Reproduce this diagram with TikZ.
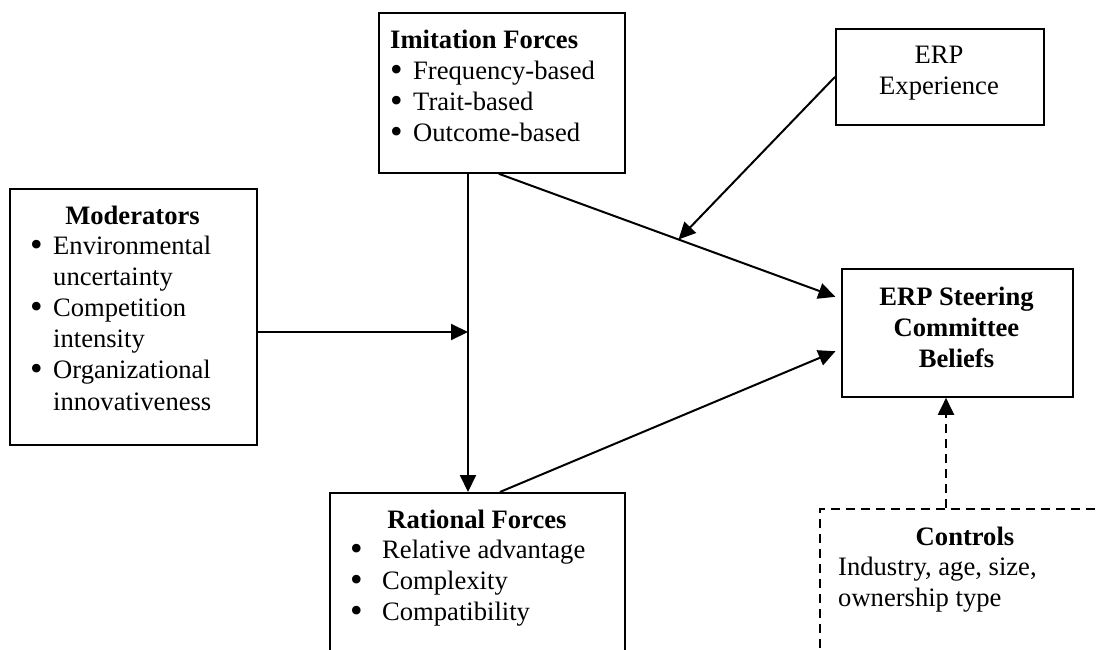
\documentclass[tikz,border=0pt]{standalone}
\usepackage{fontspec}
\setmainfont{Liberation Serif}
\usetikzlibrary{arrows.meta}
\tikzset{
 box/.style={draw,line width=1.8pt,anchor=north west,inner sep=0pt},
 txt/.style={anchor=base west,inner sep=0pt,font=\fontsize{26.6}{31.2}\selectfont},
 ctxt/.style={anchor=base,inner sep=0pt,font=\fontsize{26.6}{31.2}\selectfont},
 arr/.style={line width=2pt,-{Triangle[length=17pt,width=16pt]}}
}
\newcommand{\bul}[1]{\makebox[#1][l]{\smash{\raisebox{-2pt}{\scalebox{1.35}{\textbullet}}}}}
\begin{document}
\begin{tikzpicture}[x=1pt,y=-1pt]
 \useasboundingbox (0,0) rectangle (1098,649);
 \clip (0,0) rectangle (1098,649);
 % boxes
 \node[box,minimum width=246pt,minimum height=160pt] (imit) at (378,12) {};
 \node[box,minimum width=208pt,minimum height=96pt] (exper) at (835,28) {};
 \node[box,minimum width=247pt,minimum height=256pt] (moder) at (9,188) {};
 \node[box,minimum width=231pt,minimum height=128pt] (steer) at (841,268) {};
 \node[box,minimum width=295pt,minimum height=200pt] (ratio) at (329,492) {};
 \node[box,dash pattern=on 9pt off 6pt,minimum width=300pt,minimum height=200pt] (ctrl) at (819,508) {};
 % texts
 \node[txt] (imithead) at (390,48) {\textbf{Imitation Forces}};
 \node[txt] (imitlist) at (390,79) {\begin{tabular}[t]{@{}l@{}}
  \bul{23pt}Frequency-based\\ \bul{23pt}Trait-based\\ \bul{23pt}Outcome-based\end{tabular}};
 \node[ctxt] (expertxt) at (939,63) {\begin{tabular}[t]{@{}c@{}}ERP\\ Experience\end{tabular}};
 \node[ctxt] (moderhead) at (132.5,224) {\textbf{Moderators}};
 \node[txt] (moderlist) at (30,254) {\begin{tabular}[t]{@{}l@{}}
  \bul{23pt}Environmental\\ \hspace{23pt}uncertainty\\ \bul{23pt}Competition\\
  \hspace{23pt}intensity\\ \bul{23pt}Organizational\\ \hspace{23pt}innovativeness\end{tabular}};
 \node[ctxt] (steertxt) at (956.5,305) {\begin{tabular}[t]{@{}c@{}}\textbf{ERP Steering}\\
  \textbf{Committee}\\ \textbf{Beliefs}\end{tabular}};
 \node[ctxt] (ratiohead) at (477,528) {\textbf{Rational Forces}};
 \node[txt] (ratiolist) at (350,558) {\begin{tabular}[t]{@{}l@{}}
  \bul{32pt}Relative advantage\\ \bul{32pt}Complexity\\ \bul{32pt}Compatibility\end{tabular}};
 \node[ctxt] (ctrlhead) at (965,545) {\textbf{Controls}};
 \node[txt] (ctrltxt) at (838,575) {\begin{tabular}[t]{@{}l@{}}Industry, age, size,\\ ownership type\end{tabular}};
 % connectors
 \coordinate (junc) at (468,332);
 \coordinate (dashx) at (946,508);
 \draw[arr] (imit.south -| junc) -- (ratio.north -| junc);
 \draw[arr] (moder.east |- junc) -- (junc);
 \draw[arr,shorten >=6pt] ([xshift=-3pt]imit.south) -- ([yshift=34pt]steer.west) coordinate[pos=0.525] (hit);
 \draw[arr,shorten >=6pt] ([xshift=22.5pt]ratio.north) -- ([yshift=-16pt]steer.west);
 \draw[arr] (exper.west) -- (hit);
 \draw[arr,dash pattern=on 9pt off 6pt] (ctrl.north -| dashx) -- (steer.south -| dashx);
\end{tikzpicture}
\end{document}
